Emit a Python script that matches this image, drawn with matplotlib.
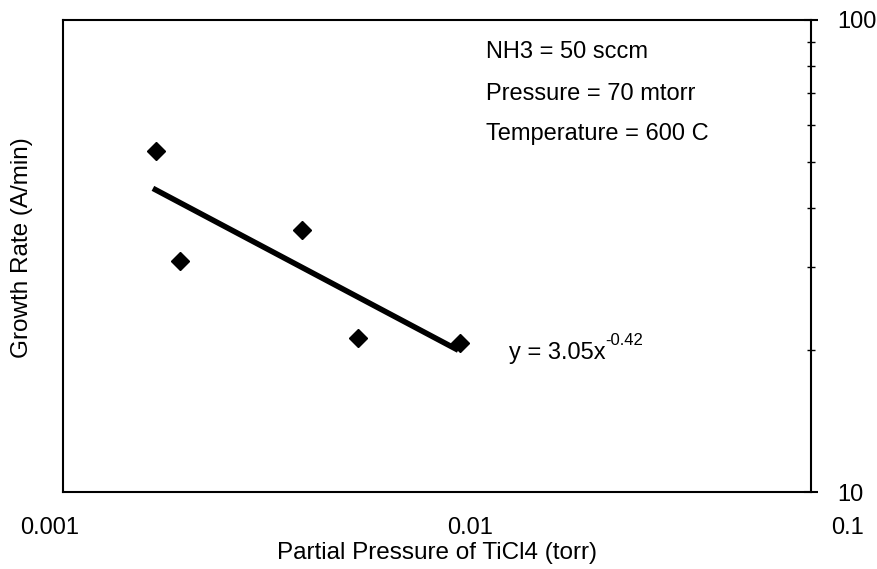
import numpy as np
import matplotlib.pyplot as plt
import matplotlib.transforms as mtransforms
from matplotlib.ticker import NullFormatter, FixedLocator, FixedFormatter

plt.rcParams['font.family'] = ['Liberation Sans', 'DejaVu Sans']

# data
pressure = [0.00177, 0.00206, 0.00436, 0.00615, 0.0115]
growth_rate = [52.8, 30.9, 35.9, 21.2, 20.7]

# power-law trendline shown on the chart: y = 3.05 x^-0.42
fit_a = 3.05
fit_b = -0.42
fit_x = [0.00174, 0.0114]

x_ticks = [0.001, 0.01, 0.1]
x_tick_labels = ["0.001", "0.01", "0.1"]
y_ticks = [10, 100]
y_tick_labels = ["10", "100"]
y_minor = [20, 30, 40, 50, 60, 70, 80, 90]

fig = plt.figure(figsize=(8.77, 5.69), dpi=100)
ax = fig.add_axes([0.0718, 0.1353, 0.8529, 0.8296])

ax.set_xscale("log")
ax.set_yscale("log")
ax.set_xlim(0.001, 0.1)
ax.set_ylim(10, 100)

ax.plot(pressure, growth_rate, linestyle="none", marker="D",
        markersize=9, color="black")
fit_y = [fit_a * x ** fit_b for x in fit_x]
ax.plot(fit_x, fit_y, color="black", linewidth=4, solid_capstyle="butt")

# axes styling, Excel-like
for side in ax.spines.values():
    side.set_linewidth(1.5)
    side.set_color("black")

ax.xaxis.set_major_locator(FixedLocator(x_ticks))
ax.xaxis.set_major_formatter(FixedFormatter(x_tick_labels))
ax.xaxis.set_minor_locator(FixedLocator([]))
ax.tick_params(axis="x", which="both", length=0, pad=18, labelsize=17)

# the scanned chart has its x labels slightly off the decade positions
label_shift_px = [-13, 33, 37]
for lab, dx in zip(ax.get_xticklabels(), label_shift_px):
    lab.set_transform(lab.get_transform() +
                      mtransforms.ScaledTranslation(dx / 100, 0, fig.dpi_scale_trans))

ax.yaxis.tick_right()
ax.yaxis.set_major_locator(FixedLocator(y_ticks))
ax.yaxis.set_major_formatter(FixedFormatter(y_tick_labels))
ax.yaxis.set_minor_locator(FixedLocator(y_minor))
ax.yaxis.set_minor_formatter(NullFormatter())
ax.tick_params(axis="y", which="major", direction="inout", length=10,
               width=1.5, pad=14, labelsize=17)
ax.tick_params(axis="y", which="minor", direction="inout", length=6,
               width=1.0)

ax.set_xlabel("Partial Pressure of TiCl4 (torr)", fontsize=17.5, labelpad=2)
fig.text(0.025, 0.565, "Growth Rate (A/min)", rotation=90, fontsize=17.5,
         ha="center", va="center")

ax.text(0.566, 0.932, "NH3 = 50 sccm", transform=ax.transAxes,
        fontsize=17, va="center")
ax.text(0.566, 0.843, "Pressure = 70 mtorr", transform=ax.transAxes,
        fontsize=17, va="center")
ax.text(0.566, 0.758, "Temperature = 600 C", transform=ax.transAxes,
        fontsize=17, va="center")
eq = ax.text(0.596, 0.295, "y = 3.05x", transform=ax.transAxes,
             fontsize=17, va="center")
ax.annotate("-0.42", xy=(1.0, 0.72), xycoords=eq, fontsize=12,
            va="bottom", ha="left")

fig.savefig("out.png", dpi=100)
